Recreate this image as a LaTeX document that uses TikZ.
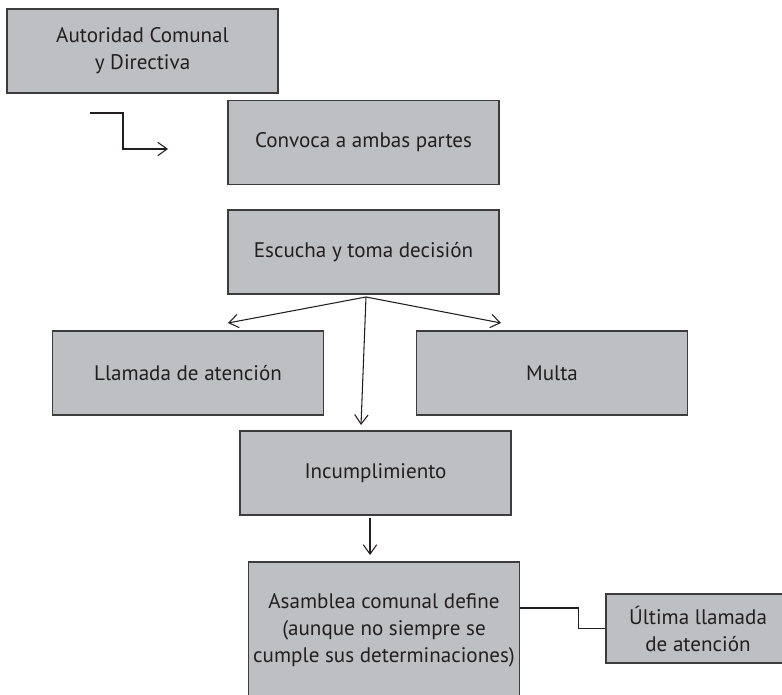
\documentclass[tikz,border=0pt]{standalone}
\usepackage{fontspec}
\setmainfont{PT Sans}
\usetikzlibrary{arrows.meta,positioning}
\definecolor{boxgray}{RGB}{190,191,194}
\definecolor{boxline}{RGB}{60,60,60}
\definecolor{ink}{RGB}{35,31,32}
\tikzset{>={Straight Barb[length=7pt,width=10pt]}}
\tikzset{
  stepbox/.style={draw=boxline, fill=boxgray, line width=1.1pt, text=ink,
    minimum width=203pt, minimum height=63pt, align=center,
    font=\fontsize{15.8}{20.3}\selectfont, inner sep=0pt},
  link/.style={line width=0.8pt, draw=ink}
}

\begin{document}
\begin{tikzpicture}[x=0.75pt,y=-0.75pt]
      \clip (0,0) rectangle (782,695);
      \fill[white] (0,0) rectangle (782,695);
      % boxes
      \node[stepbox] (auth) at (142.5,51) {Autoridad Comunal\\y Directiva};
      \node[stepbox] (convoca) at (363.5,142.5) {Convoca a ambas partes};
      \node[stepbox] (escucha) at (363.5,252) {Escucha y toma decisión};
      \node[stepbox] (llamada) at (188,373) {Llamada de atención};
      \node[stepbox] (multa) at (552,373) {Multa};
      \node[stepbox] (incumpl) at (375.5,473) {Incumplimiento};
      \node[stepbox, minimum height=102pt] (asamblea) at (384,630)
        {Asamblea comunal define\\(aunque no siempre se\\cumple sus determinaciones)};
      \node[stepbox, minimum width=138pt, minimum height=52pt] (ultima) at (698,628.5)
        {Última llamada\\de atención};
      % free ends of the arrows
      \coordinate (e1) at (90,113);
      \coordinate (e2) at (168,149);
      \coordinate (fan) at (366,297);
      \coordinate (tipL) at (228,323);
      \coordinate (tipR) at (501,323);
      \coordinate (tipD) at (361,425);
      \coordinate (d1) at (370,518);
      \coordinate (d2) at (370,555);
      % connectors
      \draw[link,->] (e1) -- ++(33,0) |- (e2);
      \draw[link,->] (fan) -- (tipL);
      \draw[link,->] (fan) -- (tipR);
      \draw[link,->] (fan) -- (tipD);
      \draw[link,->] (d1) -- (d2);
      \draw[link] ([yshift=16.5pt]asamblea.east) -- ++(58,0) |- (ultima.west);
    \end{tikzpicture}
\end{document}
